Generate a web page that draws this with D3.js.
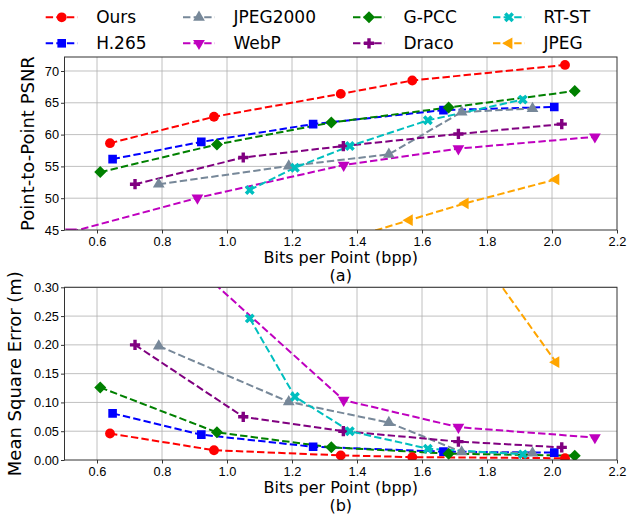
<!DOCTYPE html>
<html>
<head>
<meta charset="utf-8">
<script src="https://cdn.jsdelivr.net/npm/d3@7"></script>
<style>
  body { margin: 0; background: #fff; }
  svg { font-family: "DejaVu Sans", sans-serif; }
  .grid line { stroke: #b0b0b0; stroke-width: 0.8; }
  .tick text { fill: #000; }
</style>
</head>
<body>
<div id="chart"></div>
<script>
(function () {
  const WIDTH = 628;
  const HEIGHT = 514;

  // data
  const seriesNames = ["Ours", "H.265", "JPEG2000", "WebP", "G-PCC", "Draco", "RT-ST", "JPEG"];
  const seriesColors = ["#ff0000", "#0000ff", "#778899", "#bf00bf", "#008000", "#800080", "#00bfbf", "#ffa500"];

  const oursBpp = [0.64, 0.96, 1.35, 1.57, 2.04];
  const oursPsnr = [58.65, 62.8, 66.4, 68.5, 70.95];
  const oursMse = [0.046, 0.017, 0.008, 0.005, 0.003];

  const h265Bpp = [0.648, 0.921, 1.265, 1.666, 2.007];
  const h265Psnr = [56.15, 58.85, 61.65, 63.85, 64.35];
  const h265Mse = [0.081, 0.044, 0.023, 0.0145, 0.0128];

  const jpeg2000Bpp = [0.79, 1.19, 1.498, 1.722, 1.94];
  const jpeg2000Psnr = [52.2, 55.05, 56.9, 63.55, 64.1];
  const jpeg2000Mse = [0.198, 0.101, 0.065, 0.014, 0.012];

  const webpBpp = [0.52, 0.909, 1.359, 1.712, 2.132];
  const webpPsnr = [44.7, 50.05, 55.2, 57.8, 59.65];
  const webpMse = [0.55, 0.333, 0.104, 0.057, 0.039];

  const gpccBpp = [0.61, 0.969, 1.321, 1.682, 2.07];
  const gpccPsnr = [54.1, 58.45, 61.9, 64.25, 66.85];
  const gpccMse = [0.126, 0.048, 0.022, 0.011, 0.0075];

  const dracoBpp = [0.717, 1.05, 1.358, 1.712, 2.03];
  const dracoPsnr = [52.2, 56.4, 58.2, 60.1, 61.65];
  const dracoMse = [0.2, 0.075, 0.05, 0.032, 0.022];

  const rtstBpp = [1.07, 1.209, 1.378, 1.618, 1.91];
  const rtstPsnr = [51.3, 54.8, 58.2, 62.25, 65.5];
  const rtstMse = [0.246, 0.11, 0.05, 0.0197, 0.0098];

  const jpegBpp = [1.3, 1.561, 1.733, 2.012];
  const jpegPsnr = [42.5, 46.55, 49.2, 52.95];
  const jpegMse = [0.9, 0.53, 0.39, 0.17];

  const xTicks = [0.6, 0.8, 1.0, 1.2, 1.4, 1.6, 1.8, 2.0, 2.2];
  const psnrTicks = [45, 50, 55, 60, 65, 70];
  const mseTicks = [0, 0.05, 0.10, 0.15, 0.20, 0.25, 0.30];

  const bppList = [oursBpp, h265Bpp, jpeg2000Bpp, webpBpp, gpccBpp, dracoBpp, rtstBpp, jpegBpp];
  const psnrList = [oursPsnr, h265Psnr, jpeg2000Psnr, webpPsnr, gpccPsnr, dracoPsnr, rtstPsnr, jpegPsnr];
  const mseList = [oursMse, h265Mse, jpeg2000Mse, webpMse, gpccMse, dracoMse, rtstMse, jpegMse];

  // symbol per series: [d3 symbol, size, rotation]
  const markers = [
    [d3.symbolCircle, 76, 0],
    [d3.symbolSquare, 74, 0],
    [d3.symbolTriangle, 60, 0],
    [d3.symbolTriangle, 60, 180],
    [d3.symbolSquare, 72, 45],
    [d3.symbolCross, 58, 0],
    [d3.symbolCross, 62, 45],
    [d3.symbolTriangle, 60, -90]
  ];

  const series = seriesNames.map((name, i) => ({
    name: name,
    color: seriesColors[i],
    marker: markers[i],
    psnr: bppList[i].map((b, j) => ({ x: b, y: psnrList[i][j] })),
    mse: bppList[i].map((b, j) => ({ x: b, y: mseList[i][j] }))
  }));

  const svg = d3.select("#chart").append("svg")
    .attr("width", WIDTH)
    .attr("height", HEIGHT);

  const left = 64.5, right = 617;
  const x = d3.scaleLinear().domain([0.5, 2.2]).range([left, right]);

  drawPanel({
    id: "a", top: 57, bottom: 230,
    domain: [45, 72.2], ticks: psnrTicks, fmt: d3.format("d"),
    key: "psnr", ylabel: "Point-to-Point PSNR", labelX: 28.5, caption: "(a)"
  });
  drawPanel({
    id: "b", top: 287.3, bottom: 460,
    domain: [0, 0.30], ticks: mseTicks, fmt: d3.format(".2f"),
    key: "mse", ylabel: "Mean Square Error (m)", labelX: 16, caption: "(b)"
  });
  drawLegend();

  function drawPanel(p) {
    const y = d3.scaleLinear().domain(p.domain).range([p.bottom, p.top]);
    const g = svg.append("g");

    g.append("clipPath").attr("id", "clip-" + p.id)
      .append("rect")
      .attr("x", left).attr("y", p.top)
      .attr("width", right - left).attr("height", p.bottom - p.top);

    // grid
    const grid = g.append("g").attr("class", "grid");
    grid.selectAll(".gx").data(xTicks.filter(t => t < 2.2)).enter().append("line")
      .attr("x1", d => x(d)).attr("x2", d => x(d))
      .attr("y1", p.top).attr("y2", p.bottom);
    grid.selectAll(".gy").data(p.ticks.filter(t => t > p.domain[0])).enter().append("line")
      .attr("x1", left).attr("x2", right)
      .attr("y1", d => y(d)).attr("y2", d => y(d));

    // axes
    const xAxis = d3.axisBottom(x).tickValues(xTicks).tickFormat(d3.format(".1f")).tickSize(3.5).tickPadding(3.2);
    const yAxis = d3.axisLeft(y).tickValues(p.ticks).tickFormat(p.fmt).tickSize(3.5).tickPadding(2);
    const gx = g.append("g").attr("transform", `translate(0,${p.bottom})`).call(xAxis);
    const gy = g.append("g").attr("transform", `translate(${left},0)`).call(yAxis);
    [gx, gy].forEach(a => {
      a.select(".domain").remove();
      a.selectAll(".tick line").attr("stroke", "#000").attr("stroke-width", 0.8);
      a.selectAll(".tick text").style("font-size", "12.8px");
    });

    // lines + markers
    const line = d3.line().x(d => x(d.x)).y(d => y(d.y));
    const plot = g.append("g").attr("clip-path", `url(#clip-${p.id})`);
    series.forEach(s => {
      plot.append("path")
        .datum(s[p.key])
        .attr("d", line)
        .attr("fill", "none")
        .attr("stroke", s.color)
        .attr("stroke-width", 2)
        .attr("stroke-dasharray", "7.4,3.2");
    });
    series.forEach(s => {
      const sym = d3.symbol().type(s.marker[0]).size(s.marker[1]);
      plot.selectAll(null).data(s[p.key]).enter().append("path")
        .attr("d", sym)
        .attr("transform", d => `translate(${x(d.x)},${y(d.y)}) rotate(${s.marker[2]})`)
        .attr("fill", s.color);
    });

    // frame
    g.append("rect")
      .attr("x", left).attr("y", p.top)
      .attr("width", right - left).attr("height", p.bottom - p.top)
      .attr("fill", "none").attr("stroke", "#333").attr("stroke-width", 1);

    // labels
    g.append("text")
      .attr("transform", `translate(${p.labelX},${(p.top + p.bottom) / 2}) rotate(-90)`)
      .attr("text-anchor", "middle")
      .attr("dominant-baseline", "middle")
      .style("font-size", "18px")
      .text(p.ylabel);
    g.append("text")
      .attr("x", (left + right) / 2).attr("y", p.bottom + 32.5)
      .attr("text-anchor", "middle")
      .style("font-size", "16px")
      .text("Bits per Point (bpp)");
    g.append("text")
      .attr("x", (left + right) / 2).attr("y", p.bottom + 50.5)
      .attr("text-anchor", "middle")
      .style("font-size", "16px")
      .text(p.caption);
  }

  function drawLegend() {
    const colX = [45.7, 183, 353, 493];
    const rowY = [17.3, 43.3];
    const order = [[0, 1], [2, 3], [4, 5], [6, 7]];
    order.forEach((pair, c) => {
      pair.forEach((idx, r) => {
        const s = series[idx];
        const gx = colX[c], gy = rowY[r];
        const lg = svg.append("g");
        lg.append("line")
          .attr("x1", gx).attr("x2", gx + 32)
          .attr("y1", gy).attr("y2", gy)
          .attr("stroke", s.color).attr("stroke-width", 2)
          .attr("stroke-dasharray", "7.4,3.2");
        lg.append("path")
          .attr("d", d3.symbol().type(s.marker[0]).size(s.marker[1]))
          .attr("transform", `translate(${gx + 16},${gy}) rotate(${s.marker[2]})`)
          .attr("fill", s.color);
        lg.append("text")
          .attr("x", gx + 50.5).attr("y", gy)
          .attr("dominant-baseline", "central")
          .style("font-size", "17px")
          .text(s.name);
      });
    });
  }
})();
</script>
</body>
</html>
